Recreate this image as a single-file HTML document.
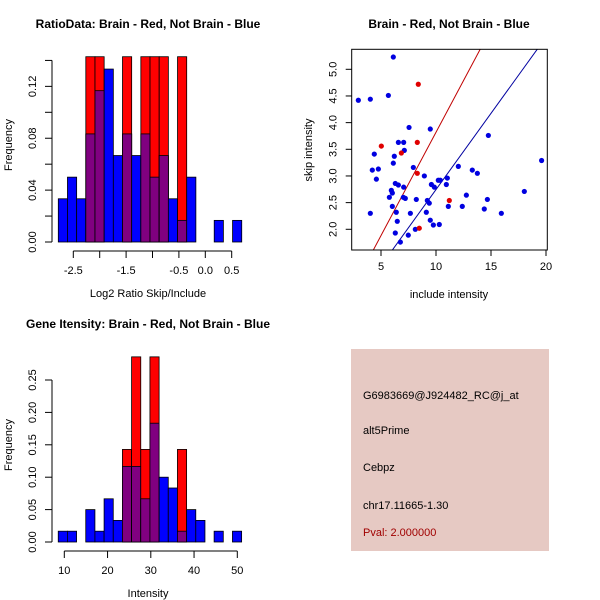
<!DOCTYPE html>
<html><head><meta charset="utf-8"><style>
body{margin:0;background:#fff}
svg{display:block;font-family:"Liberation Sans",sans-serif}
</style></head><body>
<svg id="c" width="600" height="600" xmlns="http://www.w3.org/2000/svg">
<rect width="600" height="600" fill="#fff"/>
<rect x="351" y="349" width="198" height="202" fill="#e6c9c3"/>
<g font-size="11">
<text x="363" y="399">G6983669@J924482_RC@j_at</text>
<text x="363" y="434">alt5Prime</text>
<text x="363" y="471">Cebpz</text>
<text x="363" y="509">chr17.11665-1.30</text>
<text x="363" y="536" fill="#a00000">Pval: 2.000000</text>
</g>
</svg>
<script>
// Histogram 1 data
const h1Blue=[2/60,3/60,2/60,5/60,7/60,8/60,4/60,5/60,4/60,5/60,3/60,4/60,2/60,1/60,3/60,0,0,1/60,0,1/60];
const h1Red=[0,0,0,1/7,1/7,0,0,1/7,0,1/7,1/7,1/7,0,1/7,0,0,0,0,0,0];
const h1Start=-2.784, h1Width=0.1737;
const h1XTicks=[-2.5,-2,-1.5,-1,-0.5,0,0.5];
const h1XLabels=["-2.5","","-1.5","","-0.5","0.0","0.5"];
const h1YTicks=[0,0.02,0.04,0.06,0.08,0.10,0.12,0.14];
const h1YLabels=["0.00","","0.04","","0.08","","0.12",""];
// Histogram 2 data
const h2Blue=[1/60,1/60,0,3/60,1/60,4/60,2/60,7/60,7/60,4/60,11/60,6/60,5/60,1/60,3/60,2/60,0,1/60,0,1/60];
const h2Red=[0,0,0,0,0,0,0,1/7,2/7,1/7,2/7,0,0,1/7,0,0,0,0,0,0];
const h2Start=8.6, h2Width=2.12;
const h2XTicks=[10,20,30,40,50];
const h2YTicks=[0,0.05,0.10,0.15,0.20,0.25];
const h2YLabels=["0.00","0.05","0.10","0.15","0.20","0.25"];
// Scatter data
const blueX=[6.12,2.94,4.03,5.67,7.55,9.48,14.76,6.58,7.06,7.12,4.39,6.21,19.6,6.12,4.21,4.76,7.94,12.03,13.3,13.76,4.58,8.94,10.21,10.39,11.03,6.30,6.58,7.06,9.58,9.85,10.94,5.94,6.03,5.76,7.03,7.21,8.21,12.76,18.03,14.67,9.21,9.39,6.03,11.12,12.39,14.39,4.03,6.39,7.67,9.12,15.94,6.48,9.48,9.76,10.3,8.12,6.3,7.48,6.76];
const blueY=[5.23,4.42,4.44,4.51,3.91,3.88,3.76,3.63,3.63,3.48,3.41,3.37,3.29,3.24,3.11,3.13,3.16,3.18,3.11,3.05,2.94,3.0,2.92,2.92,2.96,2.86,2.83,2.79,2.84,2.79,2.84,2.73,2.68,2.6,2.6,2.58,2.56,2.64,2.71,2.56,2.54,2.49,2.43,2.43,2.43,2.38,2.3,2.32,2.3,2.32,2.3,2.15,2.17,2.08,2.09,2.0,1.93,1.89,1.76];
const redX=[8.39,5.03,8.30,6.85,8.30,11.21,8.48];
const redY=[4.72,3.56,3.63,3.43,3.05,2.54,2.02];
const redFit=[-0.056,0.3875]; // intercept, slope
const blueFit=[-0.113,0.2858];
const sXTicks=[5,10,15,20];
const sYTicks=[2.0,2.5,3.0,3.5,4.0,4.5,5.0];

const NS="http://www.w3.org/2000/svg";
const svg=document.getElementById('c');
function mk(tag,attrs,parent){const e=document.createElementNS(NS,tag);for(const k in attrs)e.setAttribute(k,attrs[k]);(parent||svg).appendChild(e);return e;}
function txt(s,attrs,parent){const e=mk('text',attrs,parent);e.textContent=s;return e;}

function hist(o){
  const g=mk('g',{});
  
  
  const X=v=>o.x0+(v-o.xv0)*o.xs, Y=v=>o.y0-v*o.ys;
  for(let i=0;i<o.blue.length;i++){
    const a=X(o.start+i*o.w), b=X(o.start+(i+1)*o.w);
    const bl=o.blue[i], rd=o.red[i];
    if(bl>0){const r=mk('rect',{x:a,y:Y(bl),width:b-a,height:Y(0)-Y(bl),fill:'#0000ff',stroke:'#000','stroke-width':0.8},g);
      }
    if(rd>0){const r=mk('rect',{x:a,y:Y(rd),width:b-a,height:Y(0)-Y(rd),fill:'#ff0000',stroke:'#000','stroke-width':0.8},g);
      }
    const m=Math.min(bl,rd);
    if(m>0){const r=mk('rect',{x:a,y:Y(m),width:b-a,height:Y(0)-Y(m),fill:'#800080',stroke:'#000','stroke-width':0.8},g);
      }
  }
  const ax=mk('g',{stroke:'#000','stroke-width':1},g);
  
  const xa=X(o.xt[0]), xb=X(o.xt[o.xt.length-1]);
  mk('line',{x1:xa,x2:xb,y1:o.xAxisY,y2:o.xAxisY},ax);
  o.xt.forEach((t,i)=>{mk('line',{x1:X(t),x2:X(t),y1:o.xAxisY,y2:o.xAxisY+7},ax);
    const l=o.xl?o.xl[i]:String(t); if(l){const e=txt(l,{x:X(t),y:o.xAxisY+23,'text-anchor':'middle','font-size':11,stroke:'none'},g);
      }});
  const ay=mk('g',{stroke:'#000','stroke-width':1},g);
  
  mk('line',{x1:o.yAxisX,x2:o.yAxisX,y1:Y(o.yt[0]),y2:Y(o.yt[o.yt.length-1])},ay);
  o.yt.forEach((t,i)=>{mk('line',{x1:o.yAxisX,x2:o.yAxisX-7,y1:Y(t),y2:Y(t)},ay);
    const l=o.yl[i]; if(l){const px=o.yAxisX-16, py=Y(t);
      const e=txt(l,{x:px,y:py,'text-anchor':'middle','font-size':11,transform:`rotate(-90 ${px} ${py})`},g);
      }});
  const t=txt(o.title,{x:148,y:o.titleY,'text-anchor':'middle','font-size':12,'font-weight':'bold'},g);
  
  const xl=txt(o.xlab,{x:148,y:o.xlabY,'text-anchor':'middle','font-size':11},g);
  
  const cy=(o.y0+o.titleY+20)/2;
  const yl=txt('Frequency',{x:12,y:cy,'text-anchor':'middle','font-size':11,transform:`rotate(-90 12 ${cy})`},g);
  
}
hist({name:'ratio-histogram',blue:h1Blue,red:h1Red,start:h1Start,w:h1Width,x0:73.3,xv0:-2.5,xs:52.8,y0:242,ys:1297,
  xt:h1XTicks,xl:h1XLabels,yt:h1YTicks,yl:h1YLabels,xAxisY:251,yAxisX:52,title:'RatioData: Brain - Red, Not Brain - Blue',titleY:28,xlab:'Log2 Ratio Skip/Include',xlabY:297});
hist({name:'intensity-histogram',blue:h2Blue,red:h2Red,start:h2Start,w:h2Width,x0:64.3,xv0:10,xs:4.325,y0:542,ys:648,
  xt:h2XTicks,yt:h2YTicks,yl:h2YLabels,xAxisY:551,yAxisX:52,title:'Gene Itensity: Brain - Red, Not Brain - Blue',titleY:328,xlab:'Intensity',xlabY:597});

// Scatter
(function(){
  const L=351.7,R=547.3,T=49.3,B=250;
  const X=v=>381+(v-5)*11, Y=v=>69.3-(v-5)*53.33;
  const g=mk('g',{});
  
  
  const cp=mk('clipPath',{id:'sc'},g); mk('rect',{x:L,y:T,width:R-L,height:B-T},cp);
  const lines=mk('g',{'clip-path':'url(#sc)'},g);
  [[redFit,'#c00000','red-fit-line'],[blueFit,'#0000a0','blue-fit-line']].forEach(([f,c,n])=>{
    const x1=0,x2=25;
    const l=mk('line',{x1:X(x1),y1:Y(f[0]+f[1]*x1),x2:X(x2),y2:Y(f[0]+f[1]*x2),stroke:c,'stroke-width':1},lines);
    
  });
  blueX.forEach((x,i)=>{const p=mk('circle',{cx:X(x),cy:Y(blueY[i]),r:2.6,fill:'#0000e0'},g);
    });
  redX.forEach((x,i)=>{const p=mk('circle',{cx:X(x),cy:Y(redY[i]),r:2.6,fill:'#e00000'},g);
    });
  const box=mk('rect',{x:L,y:T,width:R-L,height:B-T,fill:'none',stroke:'#000','stroke-width':1},g);
  
  sXTicks.forEach(t=>{mk('line',{x1:X(t),x2:X(t),y1:B,y2:B+6,stroke:'#000'},g);
    const e=txt(String(t),{x:X(t),y:B+20,'text-anchor':'middle','font-size':11},g);
    });
  sYTicks.forEach(t=>{mk('line',{x1:L,x2:L-6,y1:Y(t),y2:Y(t),stroke:'#000'},g);
    const px=L-15,py=Y(t);
    const e=txt(t.toFixed(1),{x:px,y:py,'text-anchor':'middle','font-size':11,transform:`rotate(-90 ${px} ${py})`},g);
    });
  const t=txt('Brain - Red, Not Brain - Blue',{x:449,y:28,'text-anchor':'middle','font-size':12,'font-weight':'bold'},g);
  
  const xl=txt('include intensity',{x:449,y:298,'text-anchor':'middle','font-size':11},g);
  
  const yl=txt('skip intensity',{x:312,y:150,'text-anchor':'middle','font-size':11,transform:'rotate(-90 312 150)'},g);
  
})();
</script>
</body></html>
